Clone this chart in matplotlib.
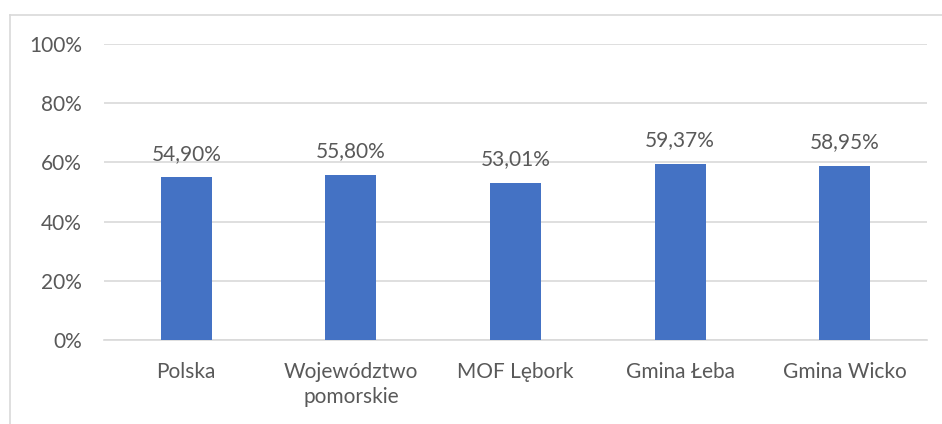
import numpy as np
import matplotlib
matplotlib.use("Agg")
import matplotlib.pyplot as plt
from matplotlib.lines import Line2D

categories = ["Polska", "Województwo\npomorskie", "MOF Lębork", "Gmina Łeba", "Gmina Wicko"]
values = [54.90, 55.80, 53.01, 59.37, 58.95]
yticks = [0, 20, 40, 60, 80, 100]

plt.rcParams['font.family'] = ['Lato', 'DejaVu Sans']
text_color = '#595959'
grid_color = '#D9D9D9'
bar_color = '#4472C4'

fig = plt.figure(figsize=(9.42, 4.24), dpi=100)
W, H = 942, 424
ax = fig.add_axes([104 / W, 1 - 340 / H, (927 - 104) / W, (340 - 44) / H])

x = np.arange(len(categories))
ax.bar(x, values, width=0.31, color=bar_color, zorder=3)

for xi, v in zip(x, values):
    label = f"{v:.2f}".replace(".", ",") + "%"
    ax.annotate(label, (xi, v), xytext=(0, 10), textcoords="offset points",
                ha="center", va="bottom", fontsize=15, color=text_color)

ax.set_xlim(-0.5, len(categories) - 0.5)
ax.set_ylim(0, 100)
ax.set_yticks(yticks)
ax.set_yticklabels([f"{t}%" for t in yticks])
ax.set_xticks(x)
ax.set_xticklabels(categories, linespacing=1.3)
ax.tick_params(axis='both', length=0, labelsize=15, colors=text_color)
ax.tick_params(axis='y', pad=16)
ax.tick_params(axis='x', pad=16)

ax.grid(axis='y', color=grid_color, linewidth=1.2, zorder=0)
for side in ['top', 'right', 'left']:
    ax.spines[side].set_visible(False)
ax.spines['bottom'].set_color(grid_color)
ax.spines['bottom'].set_linewidth(1.2)

# outer chart border (left and top edges visible)
bx0, by0 = 10 / W, 1 - 15 / H
fig.add_artist(Line2D([bx0, bx0], [0, by0], color=grid_color, lw=1.2))
fig.add_artist(Line2D([bx0, 1], [by0, by0], color=grid_color, lw=1.2))

fig.savefig("out.png", dpi=100)
